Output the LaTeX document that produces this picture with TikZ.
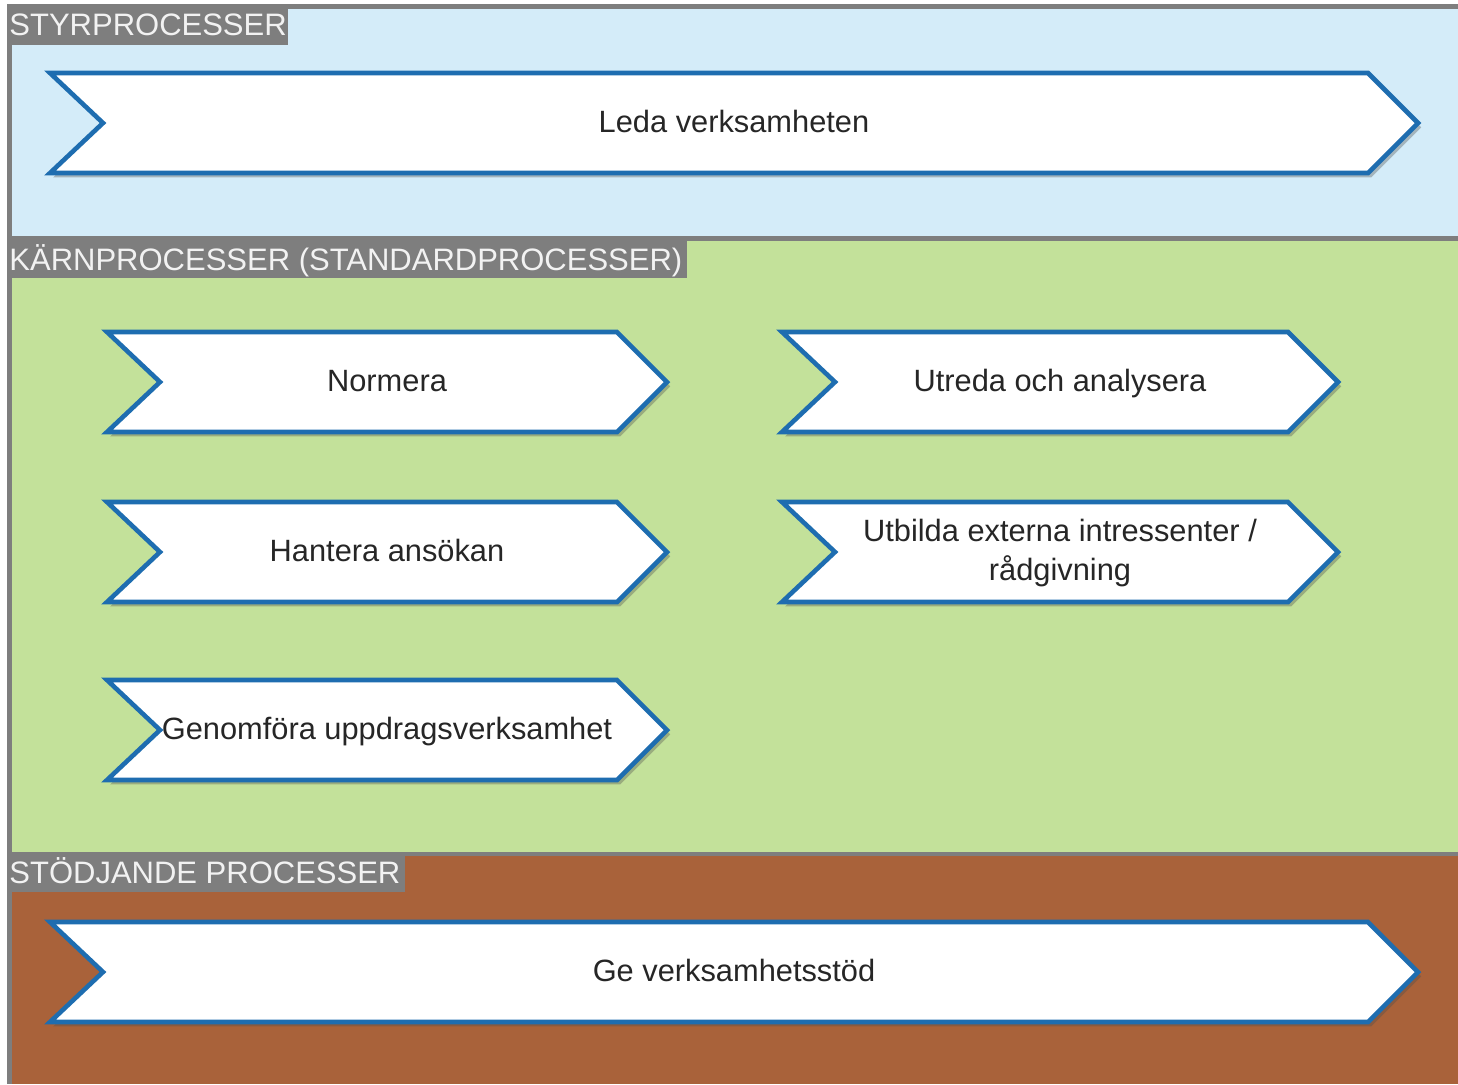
\documentclass[tikz,border=0pt]{standalone}
\usepackage{fontspec}
\setmainfont{Liberation Sans}
\usetikzlibrary{shadows}
\definecolor{framegray}{HTML}{7E7E7E}
\definecolor{panelblue}{HTML}{D4ECF9}
\definecolor{panelgreen}{HTML}{C3E19A}
\definecolor{panelbrown}{HTML}{A9623A}
\definecolor{chevblue}{HTML}{1E6DB0}
\definecolor{labeltext}{HTML}{F2F2F2}
\tikzset{
  chev/.style={draw=chevblue, line width=2.3pt, fill=white, line join=miter,
    drop shadow={shadow xshift=1.6pt, shadow yshift=-2.2pt, opacity=0.35, fill=black!70}},
  chevtext/.style={align=center, inner sep=0pt, text=black!85,
    font=\fontsize{15.4}{19.5}\selectfont},
  lbltext/.style={anchor=base west, inner sep=0pt, text=labeltext,
    font=\fontsize{15.5}{18}\selectfont},
}
\newcommand\ph{\vphantom{Åg}}
\newcommand\chevron[6]{%
  \draw[chev] (#2,#3) -- (#4-50,#3) -- (#4,{(#3+#5)/2}) -- (#4-50,#5) -- (#2,#5) -- (#2+53,{(#3+#5)/2}) -- cycle;
  \node[chevtext] (#1) at ({(#2+#4)/2},{(#3+#5)/2-1}) {\ph#6};}
\begin{document}
\begin{tikzpicture}[x=0.5pt,y=-0.5pt]
\useasboundingbox (0,0) rectangle (1458,1084);
\fill[white] (0,0) rectangle (1458,1084);
% frame
\fill[framegray] (7,4) rectangle (1458,1084);
% panels
\fill[panelblue] (12,9) rectangle (1458,236);
\fill[panelgreen] (12,241) rectangle (1458,852);
\fill[panelbrown] (12,856) rectangle (1458,1084);
% label boxes
\fill[framegray] (7,9) rectangle (288,45);
\fill[framegray] (7,241) rectangle (687,278);
\fill[framegray] (7,856) rectangle (405,892);
\node[lbltext] (l1) at (9,35) {STYRPROCESSER};
\node[lbltext] (l2) at (9,270) {KÄRNPROCESSER (STANDARDPROCESSER)};
\node[lbltext] (l3) at (9,883) {STÖDJANDE PROCESSER};
% chevrons
\chevron{leda}{50}{73}{1418}{173}{Leda verksamheten}
\chevron{normera}{107}{332}{667}{432}{Normera}
\chevron{utreda}{782}{332}{1338}{432}{Utreda och analysera}
\chevron{hantera}{107}{502}{667}{602}{Hantera ansökan}
\chevron{utbilda}{782}{502}{1338}{602}{Utbilda externa intressenter /\\\ph rådgivning}
\chevron{genomfora}{107}{680}{667}{780}{Genomföra uppdragsverksamhet}
\chevron{ge}{50}{922}{1418}{1022}{Ge verksamhetsstöd}
\end{tikzpicture}
\end{document}
